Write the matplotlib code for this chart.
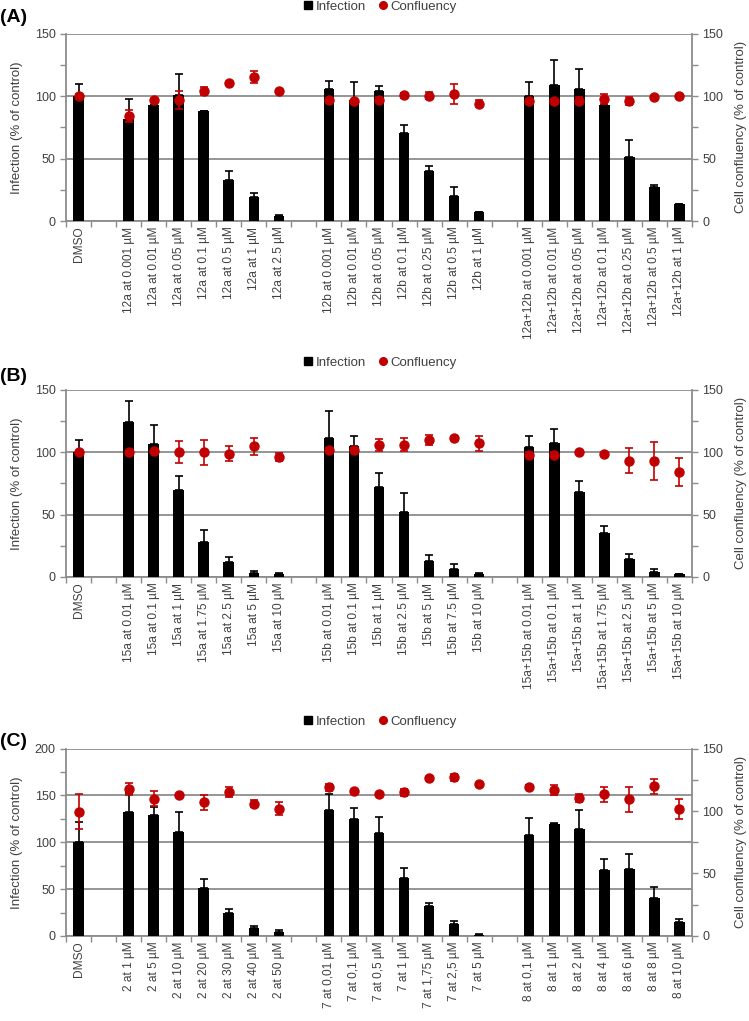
import matplotlib.pyplot as plt
from matplotlib.ticker import MultipleLocator, FixedLocator
from matplotlib.lines import Line2D

plt.rcParams['font.family'] = ['Liberation Sans', 'DejaVu Sans']

# ---- panel A ----
a_labels = ["DMSO",
            "12a at 0.001 µM", "12a at 0.01 µM", "12a at 0.05 µM", "12a at 0.1 µM",
            "12a at 0.5 µM", "12a at 1 µM", "12a at 2.5 µM",
            "12b at 0.001 µM", "12b at 0.01 µM", "12b at 0.05 µM", "12b at 0.1 µM",
            "12b at 0.25 µM", "12b at 0.5 µM", "12b at 1 µM",
            "12a+12b at 0.001 µM", "12a+12b at 0.01 µM", "12a+12b at 0.05 µM",
            "12a+12b at 0.1 µM", "12a+12b at 0.25 µM", "12a+12b at 0.5 µM", "12a+12b at 1 µM"]
a_inf = [100, 82, 93, 101, 88, 33, 19, 4.3,
         106, 97, 104, 70.5, 40, 19.7, 7,
         100, 108.8, 105.6, 93, 51, 27.4, 13.3]
a_inf_err = [10, 15.5, 0, 17, 0, 7, 3.5, 0.5,
             6, 14, 4, 6, 4, 7.7, 0.5,
             11, 20, 16, 0, 14, 1.3, 0.5]
a_conf = [100, 84, 97, 97, 104, 110.5, 115.5, 104,
          97, 96, 97, 100.8, 100.5, 101.5, 94,
          96, 96.5, 96.5, 98, 96, 99, 100]
a_conf_err = [2, 5, 1, 7, 3, 1, 5, 1,
              1, 1, 2, 2, 3, 8, 3,
              2, 1, 3, 4, 3, 1, 1]

# ---- panel B ----
b_labels = ["DMSO",
            "15a at 0.01 µM", "15a at 0.1 µM", "15a at 1 µM", "15a at 1.75 µM",
            "15a at 2.5 µM", "15a at 5 µM", "15a at 10 µM",
            "15b at 0.01 µM", "15b at 0.1 µM", "15b at 1 µM", "15b at 2.5 µM",
            "15b at 5 µM", "15b at 7.5 µM", "15b at 10 µM",
            "15a+15b at 0.01 µM", "15a+15b at 0.1 µM", "15a+15b at 1 µM",
            "15a+15b at 1.75 µM", "15a+15b at 2.5 µM", "15a+15b at 5 µM", "15a+15b at 10 µM"]
b_inf = [100, 124, 106.5, 70, 27.7, 12, 3.5, 2,
         111, 105, 72, 52, 12.6, 6, 2.5,
         104, 107, 68, 35.5, 14, 3.7, 2]
b_inf_err = [9.7, 16.5, 15, 11, 10, 4, 1.5, 1,
             21.5, 8, 11, 15, 5, 4, 1,
             9, 11.5, 9, 5.5, 4, 2.3, 0.5]
b_conf = [100, 100, 100.5, 100, 100, 98.6, 104.6, 96,
          102, 102, 105.6, 106, 109.4, 111, 107,
          98, 98, 100, 98.6, 93, 93, 84]
b_conf_err = [1, 0.5, 0.5, 9, 10, 6, 7, 3,
              1, 1, 5, 5, 4, 1, 6,
              2, 2, 0.5, 0.5, 10, 15, 11]

# ---- panel C ----
c_labels = ["DMSO",
            "2 at 1 µM", "2 at 5 µM", "2 at 10 µM", "2 at 20 µM",
            "2 at 30 µM", "2 at 40 µM", "2 at 50 µM",
            "7 at 0,01 µM", "7 at 0,1 µM", "7 at 0,5 µM", "7 at 1 µM",
            "7 at 1,75 µM", "7 at 2,5 µM", "7 at 5 µM",
            "8 at 0,1 µM", "8 at 1 µM", "8 at 2 µM", "8 at 4 µM",
            "8 at 6 µM", "8 at 8 µM", "8 at 10 µM"]
c_inf = [100, 132, 128.6, 111, 51, 25, 8.5, 4,
         134, 125, 110, 62, 32, 13, 1.5,
         108, 119, 114, 70, 71, 41, 15]
c_inf_err = [22, 21, 9, 21, 10, 4, 2.5, 2,
             17, 12, 17, 11, 3, 3, 0.5,
             18, 2, 20, 12, 16, 11, 3.5]
c_conf = [99.5, 117.5, 110, 113, 107, 115, 106, 102,
          119, 116, 113.5, 115, 126.5, 127, 121.5,
          119, 116.5, 110.5, 113.5, 109.5, 120, 102]
c_conf_err = [14, 5, 6, 1, 6, 4, 3, 5,
              3, 1, 1, 3, 1, 3, 1,
              1.5, 4, 3, 6, 10, 6, 8]

panels = [
    ("(A)", a_labels, a_inf, a_inf_err, a_conf, a_conf_err, 150),
    ("(B)", b_labels, b_inf, b_inf_err, b_conf, b_conf_err, 150),
    ("(C)", c_labels, c_inf, c_inf_err, c_conf, c_conf_err, 200),
]

# slot layout: DMSO, gap, 7 bars, gap, 7 bars, gap, 7 bars
slots = [0] + [2 + 8 * g + j for g in range(3) for j in range(7)]

grey = '#8c8c8c'
txt = '#404040'
red = '#C00000'

fig = plt.figure(figsize=(7.49, 10.21), dpi=100)
ax_bottoms = [0.7835, 0.4349, 0.0833]
ax_h = 0.1835
label_y = [0.9824, 0.6308, 0.2742]

for p, (tag, labels, inf, inf_err, conf, conf_err, ymax) in enumerate(panels):
    ax = fig.add_axes([0.0881, ax_bottoms[p], 0.8358, ax_h])
    ax2 = ax.twinx()

    ax.bar(slots, inf, width=0.42, color='black', zorder=3)
    ax.errorbar(slots, inf, yerr=[[0] * len(inf), inf_err], fmt='none',
                ecolor='black', elinewidth=1.2, capsize=3, capthick=1.2, zorder=4)
    ax2.errorbar(slots, conf, yerr=conf_err, fmt='o', color=red, ms=6.5,
                 ecolor=red, elinewidth=1.2, capsize=3, capthick=1.2, zorder=5)

    ax.set_xlim(-0.5, 24.5)
    ax.set_ylim(0, ymax)
    ax2.set_ylim(0, 150)

    ax.yaxis.set_major_locator(MultipleLocator(50))
    ax.yaxis.set_minor_locator(MultipleLocator(25))
    ax2.yaxis.set_major_locator(MultipleLocator(50))
    ax2.yaxis.set_minor_locator(MultipleLocator(25))
    ax.grid(axis='y', which='major', color=grey, lw=1.3, zorder=0)
    ax.set_axisbelow(True)

    ax.set_xticks(slots)
    ax.set_xticklabels(labels, rotation=90, fontsize=8.6, color=txt)
    ax.xaxis.set_minor_locator(FixedLocator([i - 0.5 for i in range(26)]))
    ax.tick_params(axis='x', which='major', length=0, pad=4)
    ax.tick_params(axis='x', which='minor', length=4, color=grey, width=1)

    for a in (ax, ax2):
        a.tick_params(axis='y', which='both', length=4, color=grey, width=1,
                      labelsize=9, labelcolor=txt)
        for s in ('top', 'left', 'right', 'bottom'):
            a.spines[s].set_color(grey)
            a.spines[s].set_linewidth(1.3)
    ax.spines['right'].set_visible(False)
    ax.spines['top'].set_visible(False)
    ax2.spines['left'].set_visible(False)
    ax2.spines['bottom'].set_visible(False)
    ax2.spines['top'].set_visible(False)

    ax.set_ylabel("Infection (% of control)", fontsize=9.5, color=txt)
    ax.yaxis.set_label_coords(-0.069, 0.5)
    ax2.set_ylabel("Cell confluency (% of control)", fontsize=9.5, color=txt)
    ax2.yaxis.set_label_coords(1.068, 0.5)

    handles = [Line2D([], [], ls='none', marker='s', color='black', ms=5.5),
               Line2D([], [], ls='none', marker='o', color=red, ms=5.5)]
    ax.legend(handles, ["Infection", "Confluency"], loc='center',
              bbox_to_anchor=(0.5, 1.145), ncol=2, frameon=False, fontsize=9.5,
              handletextpad=0.1, columnspacing=0.8, handlelength=1.0,
              labelcolor=txt)

    fig.text(0.0, label_y[p], tag, fontsize=14, fontweight='bold', va='center')

fig.savefig("out.png", dpi=100)
